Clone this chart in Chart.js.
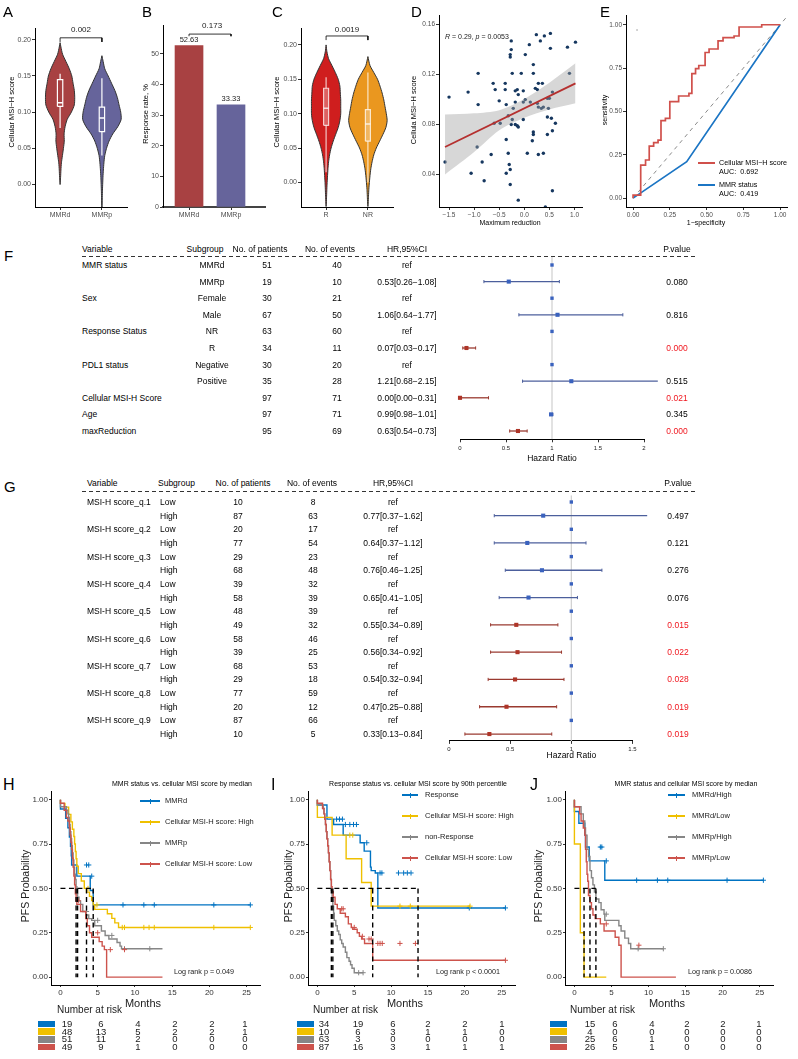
<!DOCTYPE html>
<html><head><meta charset="utf-8">
<script src="https://cdn.jsdelivr.net/npm/chart.js@4.4.1/dist/chart.umd.min.js"></script>
<style>
html,body{margin:0;padding:0;background:#fff;}
#page{position:relative;width:798px;height:1059px;overflow:hidden;background:#fff;font-family:"Liberation Sans",Arial,Helvetica,sans-serif;}
#page canvas{position:absolute;}
.t{position:absolute;white-space:nowrap;line-height:1;}
</style></head><body><div id="page"></div>
<script>
// ================= DATA =================
// Panel A (violin: Cellular MSI-H score by MMR status)
const aCats = ['MMRd','MMRp'];
const aVioY_d = [0,0.01,0.02,0.03,0.04,0.05,0.06,0.07,0.08,0.09,0.10,0.11,0.12,0.13,0.14,0.15,0.16,0.17,0.18,0.19,0.196];
const aVioW_d = [0,0.012,0.02,0.032,0.056,0.08,0.1,0.096,0.12,0.17,0.27,0.34,0.35,0.34,0.31,0.28,0.22,0.14,0.06,0.02,0];
const aVioY_p = [-0.031,-0.02,-0.01,0,0.01,0.02,0.03,0.04,0.05,0.06,0.07,0.08,0.09,0.10,0.11,0.12,0.13,0.14,0.15,0.16,0.17,0.178];
const aVioW_p = [0.004,0.008,0.012,0.018,0.025,0.035,0.048,0.068,0.11,0.17,0.26,0.38,0.46,0.45,0.41,0.37,0.31,0.23,0.15,0.068,0.03,0];
const aBox_d = [0.078,0.108,0.113,0.145,0.153];   // lo, q1, median, q3, hi
const aBox_p = [0.040,0.073,0.092,0.107,0.147];
const aP = '0.002';
// Panel B (response rate)
const bCats = ['MMRd','MMRp'];
const bRate = [52.63,33.33];
const bP = '0.173';
// Panel C (violin by response)
const cCats = ['R','NR'];
const cVioY_R = [-0.035,-0.03,-0.02,-0.01,0,0.01,0.02,0.03,0.04,0.05,0.06,0.07,0.08,0.09,0.10,0.11,0.12,0.13,0.14,0.15,0.16,0.17,0.18,0.19,0.20];
const cVioW_R = [0,0.006,0.012,0.018,0.025,0.035,0.045,0.06,0.084,0.12,0.17,0.23,0.29,0.33,0.35,0.35,0.35,0.34,0.33,0.29,0.22,0.14,0.06,0.02,0];
const cVioY_NR = [-0.035,-0.03,-0.02,-0.01,0,0.01,0.02,0.03,0.04,0.05,0.06,0.07,0.08,0.09,0.10,0.11,0.12,0.13,0.14,0.15,0.16,0.17,0.183];
const cVioW_NR = [0,0.007,0.014,0.022,0.035,0.05,0.07,0.1,0.14,0.2,0.28,0.36,0.43,0.46,0.44,0.41,0.38,0.34,0.29,0.23,0.14,0.05,0];
const cBox_R = [0.015,0.083,0.108,0.137,0.153];
const cBox_NR = [0.0,0.060,0.085,0.106,0.160];
const cP = '0.0019';
// Panel D (scatter: maximum reduction vs cellular MSI-H score)
const dX = [-1.58,-1.50,-1.12,-0.92,-0.92,-0.94,-1.06,-0.84,-0.80,-0.66,-0.62,-0.58,-0.50,-0.60,-0.48,-0.38,-0.38,-0.36,-0.36,-0.36,-0.32,-0.30,-0.28,-0.28,-0.26,-0.26,-0.28,-0.28,-0.24,-0.18,-0.14,-0.12,-0.18,-0.22,-0.32,-0.24,-0.18,-0.14,-0.12,-0.26,-0.06,-0.02,-0.12,0.06,0.10,0.24,0.32,0.40,0.52,0.52,0.86,1.02,0.18,0.02,0.18,0.02,-0.02,0.28,0.36,0.22,0.26,0.12,0.26,0.28,0.38,0.34,0.46,0.50,0.56,0.48,0.46,0.54,0.62,0.90,-0.02,0.18,0.18,0.16,0.28,0.38,0.46,0.56,0.56,0.42];
const dY = [0.050,0.102,0.106,0.121,0.096,0.062,0.041,0.050,0.035,0.056,0.113,0.108,0.099,0.081,0.081,0.113,0.108,0.096,0.068,0.041,0.057,0.048,0.044,0.032,0.147,0.140,0.136,0.134,0.121,0.107,0.108,0.104,0.098,0.093,0.087,0.084,0.080,0.079,0.078,0.080,0.121,0.107,0.0195,0.057,0.144,0.152,0.147,0.151,0.153,0.141,0.142,0.146,0.128,0.136,0.121,0.100,0.098,0.113,0.113,0.109,0.108,0.098,0.097,0.094,0.094,0.093,0.101,0.101,0.106,0.093,0.086,0.085,0.081,0.121,0.084,0.074,0.072,0.067,0.056,0.057,0.072,0.075,0.027,0.014];
const dLineX = [-1.58,1.02];
const dLineY = [0.062,0.113];
const dBandX = [-1.58,-1.0,-0.5,0,0.5,1.02];
const dBandLo = [0.040,0.058,0.0755,0.0855,0.092,0.097];
const dBandHi = [0.088,0.089,0.0915,0.1005,0.1135,0.129];
// Panel E (ROC)
const eRedFpr = [0,0,0.052,0.052,0.085,0.085,0.11,0.11,0.14,0.14,0.17,0.17,0.19,0.19,0.22,0.22,0.25,0.25,0.31,0.31,0.38,0.38,0.40,0.40,0.425,0.425,0.447,0.447,0.49,0.49,0.517,0.517,0.578,0.578,0.612,0.612,0.687,0.687,0.721,0.721,0.875,0.875,1.0];
const eRedTpr = [0,0.017,0.017,0.19,0.19,0.22,0.22,0.30,0.30,0.32,0.32,0.335,0.335,0.447,0.447,0.46,0.46,0.557,0.557,0.589,0.589,0.604,0.604,0.718,0.718,0.747,0.747,0.765,0.765,0.84,0.84,0.86,0.86,0.907,0.907,0.926,0.926,0.935,0.935,0.987,0.987,1.0,1.0];
const eBlueFpr = [0,0.365,1];
const eBlueTpr = [0,0.21,1];
const eLegend = ['Cellular MSI\u2212H score','MMR status'];
const eAUC = ['0.692','0.419'];
// Panel F (Cox model forest)
const fVar = ['MMR status','','Sex','','Response Status','','PDL1 status','','Cellular MSI-H Score','Age','maxReduction'];
const fSub = ['MMRd','MMRp','Female','Male','NR','R','Negative','Positive','','',''];
const fN = [51,19,30,67,63,34,30,35,97,97,95];
const fEv = [40,10,21,50,60,11,20,28,71,71,69];
const fHR = [null,0.53,null,1.06,null,0.07,null,1.21,0.00,0.99,0.63];
const fLo = [null,0.26,null,0.64,null,0.03,null,0.68,0.00,0.98,0.54];
const fHi = [null,1.08,null,1.77,null,0.17,null,2.15,0.31,1.01,0.73];
const fP  = [null,0.080,null,0.816,null,0.000,null,0.515,0.021,0.345,0.000];
const fTicks = [0,0.5,1,1.5,2];
// Panel G (quantile cut-offs forest)
const gVar = ['MSI-H score_q.1','MSI-H score_q.2','MSI-H score_q.3','MSI-H score_q.4','MSI-H score_q.5','MSI-H score_q.6','MSI-H score_q.7','MSI-H score_q.8','MSI-H score_q.9'];
const gNLow = [10,20,29,39,48,58,68,77,87];
const gNHigh = [87,77,68,58,49,39,29,20,10];
const gEvLow = [8,17,23,32,39,46,53,59,66];
const gEvHigh = [63,54,48,39,32,25,18,12,5];
const gHR = [0.77,0.64,0.76,0.65,0.55,0.56,0.54,0.47,0.33];
const gLo = [0.37,0.37,0.46,0.41,0.34,0.34,0.32,0.25,0.13];
const gHi = [1.62,1.12,1.25,1.05,0.89,0.92,0.94,0.88,0.84];
const gP  = [0.497,0.121,0.276,0.076,0.015,0.022,0.028,0.019,0.019];
const gTicks = [0,0.5,1,1.5];
// KM common
const kmTicksX = [0,5,10,15,20,25];
const kmTicksY = [0,0.25,0.5,0.75,1];
// Panel H
const hLabels = ['MMRd','Cellular MSI-H score: High','MMRp','Cellular MSI-H score: Low'];
const hT_blue = [0,0.7,1.0,1.2,1.35,1.45,1.5,2.2,4.0,4.4,7.3,25.5];
const hS_blue = [1,0.947,0.895,0.842,0.789,0.737,0.684,0.632,0.569,0.488,0.407,0.407];
const hCT_blue = [3.5,3.8,4.2,8.4,11.2,12.6,20.6,25.5];
const hCS_blue = [0.632,0.632,0.569,0.407,0.407,0.407,0.407,0.407];
const hT_yel = [0,0.6,1.1,1.4,1.6,1.8,1.9,2.0,2.1,2.2,2.4,2.8,3.2,3.5,3.9,4.2,4.4,4.6,6.3,6.9,7.3,7.8,8.0,25.5];
const hS_yel = [1,0.979,0.958,0.917,0.875,0.833,0.792,0.75,0.708,0.667,0.625,0.583,0.542,0.5,0.479,0.455,0.431,0.407,0.382,0.357,0.331,0.306,0.28,0.28];
const hCT_yel = [3.7,4.9,8.3,8.6,11.2,11.9,12.6,20.6,25.5];
const hCS_yel = [0.5,0.407,0.28,0.28,0.28,0.28,0.28,0.28,0.28];
const hT_gray = [0,0.8,1.0,1.1,1.2,1.3,1.4,1.5,1.6,1.7,1.8,1.9,2.0,2.1,2.2,2.3,2.5,2.7,3.0,3.4,3.8,4.2,4.6,5.5,6.0,6.5,7.6,8.0,8.2,8.4,13.7];
const hS_gray = [1,0.96,0.94,0.92,0.9,0.86,0.82,0.78,0.74,0.70,0.66,0.62,0.58,0.55,0.51,0.47,0.45,0.43,0.41,0.37,0.35,0.33,0.32,0.29,0.26,0.235,0.215,0.195,0.175,0.16,0.16];
const hCT_gray = [3.5,5.0,6.9,8.6,12.0];
const hCS_gray = [0.37,0.32,0.235,0.16,0.16];
const hT_red = [0,0.5,0.8,1.0,1.2,1.3,1.4,1.5,1.6,1.7,1.8,1.9,2.0,2.1,2.2,2.7,3.4,3.6,3.9,4.2,5.2,5.6,5.9,6.2,13.7];
const hS_red = [1,0.98,0.94,0.9,0.88,0.84,0.8,0.76,0.72,0.67,0.62,0.57,0.52,0.47,0.43,0.41,0.37,0.33,0.29,0.25,0.225,0.2,0.175,0.155,0];
const hCT_red = [2.4,5.0,6.7,8.6];
const hCS_red = [0.43,0.25,0.155,0.155];
const hMedians = [2.1,2.3,3.5,4.4];
const hRisk = [[19,6,4,2,2,1],[48,13,5,2,2,1],[51,11,2,0,0,0],[49,9,1,0,0,0]];
const hLogRank = 'Log rank p = 0.049';
// Panel I
const iLabels = ['Response','Cellular MSI-H score: High','non-Response','Cellular MSI-H score: Low'];
const iT_blue = [0,1.3,2.2,3.5,5.8,6.35,7.2,7.3,7.85,8.2,13.65,25.5];
const iS_blue = [1,0.97,0.89,0.86,0.80,0.757,0.71,0.62,0.60,0.587,0.39,0.39];
const iCT_blue = [2.6,3.0,3.4,3.8,4.4,4.9,5.3,6.7,8.5,8.75,11.0,11.7,12.2,12.7,20.6,25.5];
const iCS_blue = [0.89,0.89,0.89,0.86,0.86,0.86,0.86,0.757,0.587,0.587,0.587,0.587,0.587,0.587,0.39,0.39];
const iT_yel = [0,2.0,3.9,6.0,7.3,7.5,20.7];
const iS_yel = [1,0.9,0.8,0.667,0.533,0.40,0.40];
const iCT_yel = [4.4,4.8,11.2,12.6,20.7];
const iCS_yel = [0.8,0.8,0.4,0.4,0.4];
const iT_gray = [0,0.8,0.9,1.0,1.1,1.2,1.3,1.4,1.5,1.6,1.7,1.8,1.9,2.0,2.1,2.2,2.3,2.5,2.7,2.9,3.1,3.3,3.5,3.8,4.0,4.3,4.5,4.7,5.0,5.2,6.2];
const iS_gray = [1,0.97,0.95,0.92,0.89,0.86,0.82,0.78,0.74,0.70,0.65,0.60,0.55,0.49,0.44,0.40,0.36,0.32,0.29,0.26,0.24,0.21,0.19,0.17,0.14,0.11,0.09,0.07,0.05,0.025,0.025];
const iCT_gray = [5.6,6.2];
const iCS_gray = [0.025,0.025];
const iT_red = [0,0.7,0.9,1.0,1.1,1.2,1.3,1.4,1.5,1.6,1.7,1.8,1.9,2.0,2.15,2.4,2.7,3.1,3.8,4.2,4.6,4.8,5.4,5.7,6.0,6.4,7.5,13.65,25.5];
const iS_red = [1,0.98,0.95,0.92,0.89,0.86,0.82,0.78,0.74,0.70,0.65,0.60,0.55,0.51,0.483,0.45,0.41,0.385,0.36,0.34,0.30,0.28,0.27,0.25,0.23,0.215,0.19,0.095,0.095];
const iCT_red = [3.3,3.5,5.0,6.1,7.0,7.3,8.2,8.5,8.8,11.2,13.3,25.5];
const iCS_red = [0.385,0.385,0.28,0.23,0.215,0.215,0.19,0.19,0.19,0.19,0.19,0.095];
const iMedians = [1.9,2.1,7.5,13.65];
const iRisk = [[34,19,6,2,2,1],[10,6,3,1,1,0],[63,3,0,0,0,0],[87,16,3,1,1,1]];
const iLogRank = 'Log rank p < 0.0001';
// Panel J
const jLabels = ['MMRd/High','MMRd/Low','MMRp/High','MMRp/Low'];
const jT_blue = [0,0.6,1.4,1.5,2.0,4.1,7.2,25.5];
const jS_blue = [1,0.933,0.867,0.80,0.733,0.655,0.546,0.546];
const jCT_blue = [3.5,3.7,4.3,8.4,11.2,12.6,20.6,25.5];
const jCS_blue = [0.733,0.733,0.655,0.546,0.546,0.546,0.546,0.546];
const jT_yel = [0,0.8,1.3,4.3];
const jS_yel = [1,0.75,0.25,0];
const jCT_yel = [];
const jCS_yel = [];
const jT_gray = [0,0.9,1.2,1.4,1.5,1.7,1.9,2.1,2.3,2.5,2.7,2.9,3.3,3.6,4.0,4.1,6.0,6.3,6.8,7.3,7.6,7.9,12.0];
const jS_gray = [1,0.96,0.92,0.88,0.84,0.80,0.72,0.68,0.60,0.56,0.52,0.48,0.44,0.42,0.38,0.355,0.32,0.29,0.26,0.22,0.19,0.16,0.16];
const jCT_gray = [4.3,8.6,12.0];
const jCS_gray = [0.355,0.16,0.16];
const jT_red = [0,0.7,0.9,1.2,1.4,1.5,1.6,1.7,1.8,1.9,2.1,2.3,2.5,2.8,3.5,4.0,5.5,6.0,6.3,13.7];
const jS_red = [1,0.96,0.92,0.88,0.84,0.80,0.72,0.65,0.58,0.54,0.46,0.42,0.385,0.35,0.33,0.30,0.26,0.225,0.18,0];
const jCT_red = [4.3,8.7];
const jCS_red = [0.30,0.18];
const jMedians = [1.3,2.1,2.9];
const jRisk = [[15,6,4,2,2,1],[4,0,0,0,0,0],[25,6,1,0,0,0],[26,5,1,0,0,0]];
const jLogRank = 'Log rank p = 0.0086';

// ================= STYLE =================
const FONT = '"Liberation Sans", Arial, Helvetica, sans-serif';
const COL_A = ['#A84142','#66649B'];
const COL_C = ['#CF1E1E','#EA971F'];
const KM = ['#0073C2','#EFC000','#868686','#CD534C'];
const PRED = '#F0161E';
const TFS = 8.5; // table font size
Chart.defaults.font.family = FONT;
Chart.defaults.animation = false;
Chart.defaults.responsive = false;
Chart.defaults.devicePixelRatio = 1;
Chart.defaults.events = [];
Chart.defaults.plugins.legend.display = false;
Chart.defaults.plugins.tooltip.enabled = false;

const page = document.getElementById('page');
function T(txt, x, y, o = {}) {
  const d = document.createElement('div');
  d.className = 't';
  if (o.html) d.innerHTML = txt; else d.textContent = txt;
  const a = o.a || 'l';
  const tx = a === 'c' ? '-50%' : a === 'r' ? '-100%' : '0';
  let tf = `translate(${tx},-50%)`;
  if (o.rot) tf += ' rotate(-90deg)';
  d.style.left = x + 'px'; d.style.top = y + 'px';
  d.style.transform = tf;
  d.style.fontSize = (o.fs || TFS) + 'px';
  d.style.color = o.c || '#000';
  if (o.pre) d.style.whiteSpace = 'pre';
  page.appendChild(d);
  return d;
}
function R(x, y, w, h, bg) {
  const d = document.createElement('div');
  d.style.cssText = `position:absolute;left:${x}px;top:${y}px;width:${w}px;height:${h}px;background:${bg};`;
  page.appendChild(d);
  return d;
}
function dashRule(x, y, w) { R(x, y, w, 1, 'repeating-linear-gradient(to right,#333 0 4px,transparent 4px 7px)'); }

function scaleCfg(s, pos, size) {
  return {
    type: 'linear', position: pos, display: s.display !== false, offset: false,
    min: s.min, max: s.max, reverse: !!s.reverse,
    afterBuildTicks: sc => { sc.ticks = (s.ticks || []).map(v => ({ value: v })); },
    afterFit: sc => { if (pos === 'left') sc.width = size; else sc.height = size; },
    ticks: { autoSkip: false, maxRotation: 0, minRotation: 0, padding: s.tp ?? 1, color: s.tc || '#4d4d4d',
      font: { size: s.fs || 7, family: FONT }, callback: v => s.fmt ? s.fmt(v) : String(v) },
    grid: { display: true, offset: false, drawOnChartArea: false, drawTicks: true, tickLength: s.tl ?? 3, tickColor: s.tk || '#333', tickWidth: 1 },
    border: { display: s.border !== false, color: s.bc || '#000', width: s.bw || 1 }
  };
}
function makeChart(o) {
  const [x0, y0, x1, y1] = o.plot, [ml, mt, mr, mb] = o.pad;
  const L0 = Math.round(x0 - ml), T0 = Math.round(y0 - mt);
  const W = Math.round(x1 + mr - L0), H = Math.round(y1 + mb - T0);
  const rl = x0 - L0, rt = y0 - T0, rr = L0 + W - x1, rb = T0 + H - y1;
  const cv = document.createElement('canvas');
  cv.width = W; cv.height = H;
  cv.style.left = L0 + 'px'; cv.style.top = T0 + 'px';
  cv.style.width = W + 'px'; cv.style.height = H + 'px';
  page.appendChild(cv);
  const padding = { left: o.y.display === false ? rl : 0, top: rt, right: rr, bottom: o.x.display === false ? rb : 0 };
  const ch = new Chart(cv, {
    type: o.type || 'line',
    data: { datasets: o.datasets },
    options: { layout: { padding, autoPadding: false },
      scales: { x: scaleCfg(o.x, 'bottom', rb), y: scaleCfg(o.y, 'left', rl) },
      plugins: { legend: { display: false }, tooltip: { enabled: false } } }
  });
  ch.px = v => L0 + ch.scales.x.getPixelForValue(v);
  ch.py = v => T0 + ch.scales.y.getPixelForValue(v);
  return ch;
}
function Ln(pts, col, w, extra) {
  return Object.assign({ type: 'line', data: pts, borderColor: col, backgroundColor: col, borderWidth: w,
    pointRadius: 0, pointHoverRadius: 0, fill: false, tension: 0, showLine: true }, extra || {});
}
function violin(c, ys, ws, col, order) {
  const r = ys.map((y, i) => ({ x: c + ws[i], y }));
  const l = ys.map((y, i) => ({ x: c - ws[i], y })).reverse();
  return Ln(r.concat(l, [r[0]]), '#333', 1, { fill: 'shape', backgroundColor: col, order, tension: 0.25 });
}
function boxSets(c, b, hw, stroke, fillCol, order) {
  return [
    Ln([{x:c-hw,y:b[1]},{x:c+hw,y:b[1]},{x:c+hw,y:b[3]},{x:c-hw,y:b[3]},{x:c-hw,y:b[1]}], stroke, 1.2,
      { order, fill: fillCol ? 'shape' : false, backgroundColor: fillCol || 'rgba(0,0,0,0)' }),
    Ln([{x:c-hw,y:b[2]},{x:c+hw,y:b[2]}], stroke, 1.5, { order }),
    Ln([{x:c,y:b[0]},{x:c,y:b[1]}], stroke, 1.2, { order }),
    Ln([{x:c,y:b[3]},{x:c,y:b[4]}], stroke, 1.2, { order })
  ];
}
function bracket(xa, xb, yTop, yTick) {
  return Ln([{x:xa,y:yTick},{x:xa,y:yTop},{x:xb,y:yTop},{x:xb,y:yTick}], '#000', 0.8, { order: 0, clip: false });
}
const f2 = v => v.toFixed(2);
const fMinus = v => (v < 0 ? '\u2212' : '') + Math.abs(v).toFixed(1);

// ================= TOP ROW =================
// A
const chA = makeChart({ plot: [35, 25, 127, 207], pad: [35, 2, 3, 15],
  x: { min: 0.4, max: 2.6, ticks: [1, 2], fmt: v => aCats[v - 1] },
  y: { min: -0.031, max: 0.216, ticks: [0, 0.05, 0.1, 0.15, 0.2], fmt: f2 },
  datasets: [violin(1, aVioY_d, aVioW_d, COL_A[0], 5), violin(2, aVioY_p, aVioW_p, COL_A[1], 5),
    ...boxSets(1, aBox_d, 0.064, '#fff', null, 2), ...boxSets(2, aBox_p, 0.064, '#fff', null, 2),
    bracket(1, 2, 0.2027, 0.197)] });
T(aP, chA.px(1.5), chA.py(0.2136), { a: 'c', fs: 8, c: '#222' });
T('Cellular MSI\u2212H score', 12, 112, { a: 'c', rot: true, fs: 7.5 });
T('A', 3, 11, { fs: 15 });

// B
const chB = makeChart({ type: 'bar', plot: [163, 22, 265, 207], pad: [20, 2, 3, 15],
  x: { min: 0.38, max: 2.81, ticks: [1, 2], fmt: v => bCats[v - 1], bw: 2, bc: '#444' },
  y: { min: 0, max: 59.3, ticks: [0, 10, 20, 30, 40, 50], fmt: v => String(v) },
  datasets: [{ type: 'bar', data: bRate.map((r, i) => ({ x: i + 1, y: r })), backgroundColor: COL_A, barThickness: 28, grouped: false, order: 2 },
    bracket(1, 2, 56.4, 55.7)] });
bRate.forEach((r, i) => T(r.toFixed(2), chB.px(i + 1), chB.py(r) - 6, { a: 'c', fs: 7.5, c: '#222' }));
T(bP, chB.px(1.55), chB.py(59.0), { a: 'c', fs: 8, c: '#222' });
T('Response rate, %', 146, 114, { a: 'c', rot: true, fs: 7.5 });
T('B', 142, 11, { fs: 15 });

// C
const chC = makeChart({ plot: [301, 25, 393, 207], pad: [30, 2, 3, 15],
  x: { min: 0.4, max: 2.6, ticks: [1, 2], fmt: v => cCats[v - 1] },
  y: { min: -0.0357, max: 0.2243, ticks: [0, 0.05, 0.1, 0.15, 0.2], fmt: f2 },
  datasets: [violin(1, cVioY_R, cVioW_R, COL_C[0], 5), violin(2, cVioY_NR, cVioW_NR, COL_C[1], 5),
    ...boxSets(1, cBox_R, 0.06, 'rgba(255,255,255,0.75)', 'rgba(255,255,255,0.3)', 2),
    ...boxSets(2, cBox_NR, 0.06, 'rgba(255,255,255,0.75)', 'rgba(255,255,255,0.3)', 2),
    bracket(1, 2, 0.213, 0.207)] });
T(cP, chC.px(1.5), chC.py(0.2215), { a: 'c', fs: 8, c: '#222' });
T('Cellular MSI\u2212H score', 277, 112, { a: 'c', rot: true, fs: 7.5 });
T('C', 272, 11, { fs: 15 });

// D
const chD = makeChart({ plot: [439, 13, 582, 207], pad: [24, 2, 3, 12],
  x: { min: -1.7, max: 1.15, ticks: [-1.5, -1, -0.5, 0, 0.5, 1], fmt: fMinus, fs: 6.5 },
  y: { min: 0.014, max: 0.167, ticks: [0.04, 0.08, 0.12, 0.16], fmt: f2, fs: 6.5 },
  datasets: [
    { type: 'line', data: dX.map((x, i) => ({ x, y: dY[i] })), showLine: false, pointRadius: 1.7, pointBackgroundColor: '#16375F', pointBorderWidth: 0, order: 3 },
    Ln(dBandX.map((x, i) => ({ x, y: dBandHi[i] })), 'rgba(0,0,0,0)', 0, { fill: '+1', backgroundColor: 'rgba(160,160,160,0.42)', order: 2, tension: 0.3 }),
    Ln(dBandX.map((x, i) => ({ x, y: dBandLo[i] })), 'rgba(0,0,0,0)', 0, { order: 2, tension: 0.3 }),
    Ln(dLineX.map((x, i) => ({ x, y: dLineY[i] })), '#B5302F', 1.8, { order: 1 })
  ] });
T('<i>R</i> = 0.29, <i>p</i> = 0.0053', 445, 36, { html: true, fs: 7, c: '#222' });
T('Cellula MSI\u2212H score', 414, 110, { a: 'c', rot: true, fs: 7.5 });
T('Maximum reduction', 510, 222, { a: 'c', fs: 7 });
T('D', 411, 11, { fs: 15 });

// E
const chE = makeChart({ plot: [626, 13, 787, 207], pad: [24, 2, 3, 12],
  x: { min: -0.048, max: 1.047, ticks: [0, 0.25, 0.5, 0.75, 1], fmt: f2, fs: 6.5 },
  y: { min: -0.051, max: 1.051, ticks: [0, 0.25, 0.5, 0.75, 1], fmt: f2, fs: 6.5 },
  datasets: [
    Ln([{ x: 0, y: 0 }, { x: 1.05, y: 1.05 }], '#8a8a8a', 1, { borderDash: [4, 4], order: 3 }),
    Ln(eBlueFpr.map((x, i) => ({ x, y: eBlueTpr[i] })), '#1B75C4', 1.7, { order: 2 }),
    Ln(eRedFpr.map((x, i) => ({ x, y: eRedTpr[i] })), '#D0504B', 1.7, { order: 1 }),
    { type: 'line', data: [{ x: 0.027, y: 0.97 }], showLine: false, pointRadius: 0.8, pointBackgroundColor: '#999', pointBorderWidth: 0, order: 0 }
  ] });
R(698, 162, 17, 2, '#D0504B'); R(698, 184, 17, 2, '#1B75C4');
T(eLegend[0], 719, 163, { fs: 7.2 }); T('AUC:  ' + eAUC[0], 719, 172, { fs: 7.2, pre: true });
T(eLegend[1], 719, 185, { fs: 7.2 }); T('AUC:  ' + eAUC[1], 719, 194, { fs: 7.2, pre: true });
T('sensitivity', 604, 110, { a: 'c', rot: true, fs: 7 });
T('1\u2212specificity', 706, 222, { a: 'c', fs: 7 });
T('E', 600, 11, { fs: 15 });

// ================= FOREST HELPERS =================
function forestSets(hr, lo, hi, p, nrow) {
  const ds = [Ln([{ x: 1, y: -0.5 }, { x: 1, y: nrow - 0.5 }], '#cfcfcf', 1.2, { order: 9 })];
  const pts = [], rad = [], col = [];
  hr.forEach((h, i) => {
    const sig = p[i] != null && p[i] < 0.05;
    if (h == null) { pts.push({ x: 1, y: i }); rad.push(2.4); col.push('#3A62BE'); return; }
    const lc = sig ? '#9A3A30' : '#4C5F9C';
    ds.push(Ln([{ x: lo[i], y: i }, { x: hi[i], y: i }], lc, 1.3,
      { order: 3, clip: false, pointStyle: 'line', pointRotation: 90, pointRadius: 1.6, pointBorderColor: lc, pointBorderWidth: 1 }));
    pts.push({ x: h, y: i }); rad.push(2.9); col.push(sig ? '#AE3528' : '#3A62BE');
  });
  ds.push({ type: 'line', data: pts, showLine: false, pointStyle: 'rect', pointRadius: rad, pointBackgroundColor: col, pointBorderWidth: 0, clip: false, order: 1 });
  return ds;
}
const hrStr = (h, l, u) => h == null ? 'ref' : `${h.toFixed(2)}[${l.toFixed(2)}\u2212${u.toFixed(2)}]`;

// ================= F =================
const fRow0 = 265, fDy = 16.6;
T('F', 4, 255, { fs: 15 });
T('Variable', 82, 249); T('Subgroup', 205, 249, { a: 'c' }); T('No. of patients', 260, 249, { a: 'c' });
T('No. of events', 330, 249, { a: 'c' }); T('HR,95%CI', 407, 249, { a: 'c' }); T('P.value', 677, 249, { a: 'c' });
dashRule(82, 256, 613);
fVar.forEach((v, i) => {
  const y = fRow0 + i * fDy;
  if (v) T(v, 82, y);
  if (fSub[i]) T(fSub[i], 212, y, { a: 'c' });
  T(String(fN[i]), 267, y, { a: 'c' });
  T(String(fEv[i]), 337, y, { a: 'c' });
  T(hrStr(fHR[i], fLo[i], fHi[i]), 407, y, { a: 'c' });
  if (fP[i] != null) T(fP[i].toFixed(3), 677, y, { a: 'c', c: fP[i] < 0.05 ? PRED : '#000' });
});
const chF = makeChart({ plot: [450, fRow0 - fDy / 2, 644, fRow0 + 10.5 * fDy], pad: [10, 2, 60, 14],
  x: { min: 0, max: 2, ticks: fTicks, fmt: v => String(v), fs: 6, tl: 3, tp: 2, tc: '#222' },
  y: { display: false, min: -0.5, max: 10.5, reverse: true },
  datasets: forestSets(fHR, fLo, fHi, fP, 11) });
T('Hazard Ratio', chF.px(1), 458, { a: 'c', fs: 8.5 });

// ================= G =================
const gRow0 = 502, gDy = 13.65;
T('G', 4, 486, { fs: 15 });
T('Variable', 87, 483); T('Subgroup', 158, 483); T('No. of patients', 243, 483, { a: 'c' });
T('No. of events', 312, 483, { a: 'c' }); T('HR,95%CI', 393, 483, { a: 'c' }); T('P.value', 678, 483, { a: 'c' });
dashRule(82, 491, 613);
const gHRrows = [], gLoRows = [], gHiRows = [], gProws = [];
gVar.forEach((v, k) => {
  const yL = gRow0 + (2 * k) * gDy, yH = gRow0 + (2 * k + 1) * gDy;
  T(v, 87, yL); T('Low', 160, yL); T('High', 160, yH);
  T(String(gNLow[k]), 238, yL, { a: 'c' }); T(String(gNHigh[k]), 238, yH, { a: 'c' });
  T(String(gEvLow[k]), 313, yL, { a: 'c' }); T(String(gEvHigh[k]), 313, yH, { a: 'c' });
  T('ref', 393, yL, { a: 'c' }); T(hrStr(gHR[k], gLo[k], gHi[k]), 393, yH, { a: 'c' });
  T(gP[k].toFixed(3), 678, yH, { a: 'c', c: gP[k] < 0.05 ? PRED : '#000' });
  gHRrows.push(null, gHR[k]); gLoRows.push(null, gLo[k]); gHiRows.push(null, gHi[k]); gProws.push(null, gP[k]);
});
const chG = makeChart({ plot: [439, gRow0 - gDy / 2, 632.5, gRow0 + 17.5 * gDy], pad: [10, 2, 60, 14],
  x: { min: 0, max: 1.5, ticks: gTicks, fmt: v => String(v), fs: 6, tl: 3, tp: 2, tc: '#222' },
  y: { display: false, min: -0.5, max: 17.5, reverse: true },
  datasets: forestSets(gHRrows, gLoRows, gHiRows, gProws, 18) });
T('Hazard Ratio', chG.px(1), 755, { a: 'c', fs: 8.5 });

// ================= KM PANELS =================
function kmPanel(o) {
  const ds = [];
  const mx = Math.max(...o.medians);
  ds.push(Ln([{ x: 0, y: 0.5 }, { x: mx, y: 0.5 }], '#000', 1.4, { borderDash: [5, 3.5], order: 0 }));
  o.medians.forEach(m => ds.push(Ln([{ x: m, y: 0.5 }, { x: m, y: 0 }], '#000', 1.4, { borderDash: [5, 3.5], order: 0 })));
  o.curves.forEach((c, k) => {
    ds.push(Ln(c.t.map((t, i) => ({ x: t, y: c.s[i] })), KM[k], 1.4, { stepped: 'after', order: 10 - k }));
    ds.push({ type: 'line', data: c.ct.map((t, i) => ({ x: t, y: c.cs[i] })), showLine: false, pointStyle: 'cross',
      pointRadius: 2.6, pointBorderColor: KM[k], pointBorderWidth: 1, borderColor: KM[k], order: 10 - k });
  });
  const ch = makeChart({ plot: o.plot, pad: [22, 2, 2, 12],
    x: { min: -1.27, max: 26.8, ticks: kmTicksX, fmt: v => String(v), fs: 8, tl: 2, tp: 1, tc: '#333' },
    y: { min: -0.0442, max: 1.0442, ticks: kmTicksY, fmt: f2, fs: 8, tl: 2, tp: 1, tc: '#333' },
    datasets: ds });
  T(o.letter, o.letterX, 785, { fs: 16 });
  T(o.title, o.titleX, 783, { a: 'c', fs: 7 });
  o.labels.forEach((lab, k) => {
    const y = 801 - o.legDy0 + k * 21;
    R(o.leg[0], y - 0.75, o.leg[1] - o.leg[0], 1.5, KM[k]);
    R((o.leg[0] + o.leg[1]) / 2 - 0.5, y - 2.5, 1, 5, KM[k]);
    T(lab, o.leg[2], y, { fs: 7.5, c: '#222' });
  });
  T(o.logrank, o.lrX, 972, { a: 'c', fs: 7.2, c: '#222' });
  T('PFS Probability', o.pfsX, 886, { a: 'c', rot: true, fs: 10.5, c: '#222' });
  T('Months', o.monthsX, 1003, { a: 'c', fs: 11, c: '#222' });
  T('Number at risk', o.narX, 1010, { fs: 10, c: '#222' });
  o.risk.forEach((row, k) => {
    const y = 1024 + k * 7.7;
    R(o.swX, y - 3.4, 17, 6.8, KM[k]);
    row.forEach((n, j) => T(String(n), o.riskCols[j], y, { a: 'c', fs: 9.5, c: '#222' }));
  });
  return ch;
}
kmPanel({ plot: [51, 788, 260, 985], letter: 'H', letterX: 3, title: 'MMR status vs. cellular MSI score by median', titleX: 182,
  labels: hLabels, leg: [140, 160, 165], legDy0: 0, logrank: hLogRank, lrX: 204, pfsX: 25, monthsX: 143, narX: 57, swX: 38,
  riskCols: [67, 101, 138, 175, 212, 245], risk: hRisk, medians: hMedians,
  curves: [{ t: hT_blue, s: hS_blue, ct: hCT_blue, cs: hCS_blue }, { t: hT_yel, s: hS_yel, ct: hCT_yel, cs: hCS_yel },
    { t: hT_gray, s: hS_gray, ct: hCT_gray, cs: hCS_gray }, { t: hT_red, s: hS_red, ct: hCT_red, cs: hCS_red }] });
kmPanel({ plot: [308, 788, 515, 985], letter: 'I', letterX: 271, title: 'Response status vs. cellular MSI score by 90th percentile', titleX: 418,
  labels: iLabels, leg: [402, 418, 425], legDy0: 6, logrank: iLogRank, lrX: 468, pfsX: 288, monthsX: 405, narX: 313, swX: 297,
  riskCols: [324, 358, 393, 428, 465, 502], risk: iRisk, medians: iMedians,
  curves: [{ t: iT_blue, s: iS_blue, ct: iCT_blue, cs: iCS_blue }, { t: iT_yel, s: iS_yel, ct: iCT_yel, cs: iCS_yel },
    { t: iT_gray, s: iS_gray, ct: iCT_gray, cs: iCS_gray }, { t: iT_red, s: iS_red, ct: iCT_red, cs: iCS_red }] });
kmPanel({ plot: [565, 788, 773, 985], letter: 'J', letterX: 530, title: 'MMR status and cellular MSI score by median', titleX: 686,
  labels: jLabels, leg: [668, 685, 692], legDy0: 6, logrank: jLogRank, lrX: 720, pfsX: 538, monthsX: 667, narX: 570, swX: 550,
  riskCols: [590, 615, 652, 687, 723, 759], risk: jRisk, medians: jMedians,
  curves: [{ t: jT_blue, s: jS_blue, ct: jCT_blue, cs: jCS_blue }, { t: jT_yel, s: jS_yel, ct: jCT_yel, cs: jCS_yel },
    { t: jT_gray, s: jS_gray, ct: jCT_gray, cs: jCS_gray }, { t: jT_red, s: jS_red, ct: jCT_red, cs: jCS_red }] });
</script></body></html>
